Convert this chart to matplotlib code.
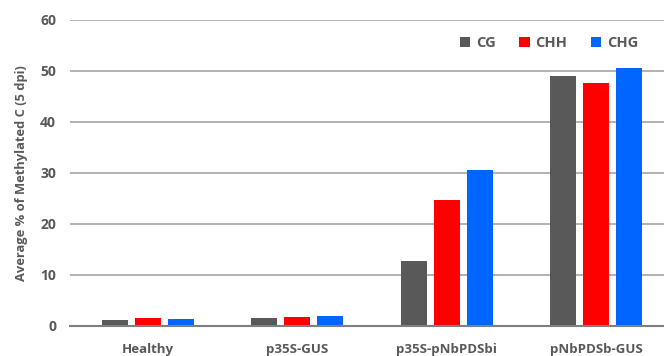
import numpy as np
import matplotlib
matplotlib.use("Agg")
import matplotlib.pyplot as plt

groups = ["Healthy", "p35S-GUS", "p35S-pNbPDSbi", "pNbPDSb-GUS"]
series = ["CG", "CHH", "CHG"]
cg = [1.1, 1.5, 12.7, 48.9]
chh = [1.5, 1.7, 24.6, 47.6]
chg = [1.4, 1.9, 30.5, 50.6]
colors = ["#595959", "#ff0000", "#0066ff"]
yticks = [0, 10, 20, 30, 40, 50, 60]

plt.rcParams["font.family"] = ["Open Sans", "DejaVu Sans"]
text_col = "#595959"

fig = plt.figure(figsize=(6.64, 3.56), dpi=100)
ax = fig.add_axes([0.1054, 0.0843, 0.9096, 0.86])

x = np.arange(len(groups))
width = 0.175
step = 0.22
for i, (name, vals, col) in enumerate(zip(series, [cg, chh, chg], colors)):
    ax.bar(x + (i - 1) * step, vals, width, color=col, label=name, zorder=3)

ax.set_xlim(-0.52, len(groups) - 1 + 0.52)
ax.set_ylim(0, 60)
ax.set_yticks(yticks)
ax.yaxis.grid(True, color="#a6a6a6", linewidth=1.2, zorder=0)
ax.set_axisbelow(True)
for s in ["top", "right", "left"]:
    ax.spines[s].set_visible(False)
ax.spines["bottom"].set_color("#7f7f7f")
ax.spines["bottom"].set_linewidth(1.5)
ax.spines["bottom"].set_zorder(4)

ax.set_xticks(x)
ax.set_xticklabels(groups, fontsize=9.5, fontweight="bold", color=text_col)
ax.tick_params(axis="both", length=0)
ax.tick_params(axis="y", labelsize=10, labelcolor=text_col, pad=10)
for t in ax.get_yticklabels():
    t.set_fontweight("bold")
ax.tick_params(axis="x", pad=12)

ax.set_ylabel("Average % of Methylated C (5 dpi)", fontsize=9.3,
              fontweight="bold", color=text_col, labelpad=9)

leg = ax.legend(loc="upper right", bbox_to_anchor=(0.962, 0.99), ncol=3,
                frameon=False, handlelength=0.7, handleheight=0.7,
                handletextpad=0.4, columnspacing=1.6,
                prop={"size": 10.5, "weight": "bold"})
for t in leg.get_texts():
    t.set_color(text_col)

fig.savefig("out.png", dpi=100)
